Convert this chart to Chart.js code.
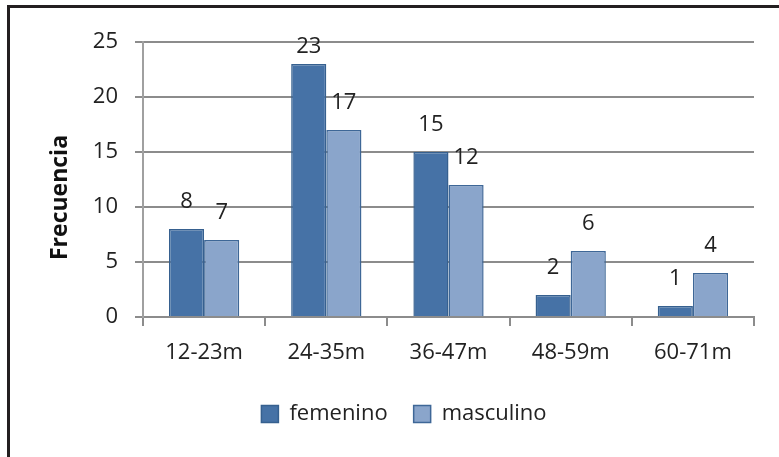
<!DOCTYPE html>
<html lang="es">
<head>
<meta charset="UTF-8">
<title>Frecuencia por grupo de edad y sexo</title>
<script src="https://cdn.jsdelivr.net/npm/chart.js"></script>
<style>
  html, body { margin: 0; padding: 0; background: #fff; overflow: hidden; }
  .wrap { position: relative; width: 779px; height: 457px; overflow: hidden; }
  .frame {
    position: absolute; left: 7px; top: 5px; width: 900px; height: 600px;
    border-left: 3px solid #231f20; border-top: 3px solid #231f20;
  }
  canvas { position: absolute; left: 0; top: 0; }
</style>
</head>
<body>
<div class="wrap">
  <div class="frame"></div>
  <canvas id="chart" width="779" height="457"></canvas>
</div>

<script>
  // Data
  const categories = ['12-23m', '24-35m', '36-47m', '48-59m', '60-71m'];
  const femenino = [8, 23, 15, 2, 1];
  const masculino = [7, 17, 12, 6, 4];
  const yTicks = [0, 5, 10, 15, 20, 25];
  const axisTitle = 'Frecuencia';

  const FONT = '"Open Sans", "Noto Sans", sans-serif';
  Chart.defaults.font.family = FONT;
  Chart.defaults.font.size = 22;
  Chart.defaults.color = '#222';

  // numbers above each bar
  const valueLabels = {
    id: 'valueLabels',
    afterDatasetsDraw(chart) {
      const ctx = chart.ctx;
      ctx.save();
      ctx.font = '22px ' + FONT;
      ctx.fillStyle = '#222';
      ctx.textAlign = 'center';
      ctx.textBaseline = 'alphabetic';
      chart.data.datasets.forEach((ds, i) => {
        chart.getDatasetMeta(i).data.forEach((bar, j) => {
          const y = Math.max(bar.y - 21, chart.chartArea.top + 11);
          ctx.fillText(ds.data[j], bar.x, y);
        });
      });
      ctx.restore();
    }
  };

  // rotated y title, sits a bit below the plot centre like the original
  const yTitle = {
    id: 'yTitle',
    afterDraw(chart) {
      const a = chart.chartArea;
      const ctx = chart.ctx;
      ctx.save();
      ctx.translate(60, (a.top + a.bottom) / 2 + 18);
      ctx.rotate(-Math.PI / 2);
      ctx.font = 'bold 23px ' + FONT;
      ctx.fillStyle = '#111';
      ctx.textAlign = 'center';
      ctx.textBaseline = 'middle';
      ctx.fillText(axisTitle, 0, 0);
      ctx.restore();
    }
  };

  new Chart(document.getElementById('chart'), {
    type: 'bar',
    data: {
      labels: categories,
      datasets: [
        {
          label: 'femenino', data: femenino,
          backgroundColor: '#4672a6', borderColor: '#36608f', borderWidth: 1.5,
          categoryPercentage: 0.575, barPercentage: 1
        },
        {
          label: 'masculino', data: masculino,
          backgroundColor: '#8aa5cb', borderColor: '#3e6797', borderWidth: 1.5,
          categoryPercentage: 0.575, barPercentage: 1
        }
      ]
    },
    options: {
      responsive: false,
      animation: false,
      devicePixelRatio: 1,
      layout: { padding: { left: 54, right: 25, top: 42, bottom: 22 } },
      plugins: {
        tooltip: { enabled: false },
        legend: {
          position: 'bottom',
          labels: { boxWidth: 17, boxHeight: 17, padding: 26, color: '#222', font: { size: 22 } }
        }
      },
      scales: {
        x: {
          grid: { offset: true, drawOnChartArea: false, drawTicks: true, tickLength: 9, color: '#8c8c8c', lineWidth: 2 },
          border: { color: '#8c8c8c', width: 2 },
          ticks: { padding: 14, maxRotation: 0 },
          afterFit(scale) { scale.height = 60; }
        },
        y: {
          min: yTicks[0],
          max: yTicks[yTicks.length - 1],
          afterBuildTicks(scale) { scale.ticks = yTicks.map(v => ({ value: v })); },
          grid: { color: '#8c8c8c', lineWidth: 2, tickLength: 8 },
          border: { color: '#a0a0a0', width: 2 },
          ticks: { padding: 17 },
          afterFit(scale) { scale.width = 89; }
        }
      }
    },
    plugins: [valueLabels, yTitle]
  });
</script>
</body>
</html>
